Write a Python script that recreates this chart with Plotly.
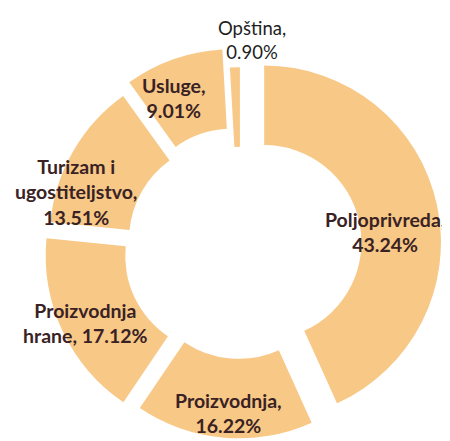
import plotly.graph_objects as go

# Data
categories = ["Poljoprivreda", "Proizvodnja", "Proizvodnja hrane",
              "Turizam i ugostiteljstvo", "Usluge", "Opština"]
label_lines = [["Poljoprivreda,"], ["Proizvodnja,"], ["Proizvodnja", "hrane,"],
               ["Turizam i", "ugostiteljstvo,"], ["Usluge,"], ["Opština,"]]
values = [43.24, 16.22, 17.12, 13.51, 9.01, 0.90]


def make_text(lines, v):
    body = list(lines)
    pct = f"{v:.2f}%"
    if len(body) == 2 and body[1] == "hrane,":
        body[1] = body[1] + " " + pct
    else:
        body.append(pct)
    return "<br>".join(body)


texts = [make_text(l, v) for l, v in zip(label_lines, values)]

fig = go.Figure(go.Pie(
    labels=categories,
    values=values,
    text=texts,
    textinfo="none",
    hoverinfo="label+percent",
    sort=False,
    direction="clockwise",
    rotation=0,
    hole=0.55,
    pull=[0.14, 0.08, 0.11, 0.09, 0.13, 0.02],
    marker=dict(colors=["#F7C886"] * 6, line=dict(width=0)),
    domain=dict(x=[0.0678, 0.9633], y=[0.0, 0.9138]),
    showlegend=False,
))

# data labels placed where the source chart shows them (paper coordinates)
label_pos = [(0.838, 0.492), (0.489, 0.082), (0.173, 0.286),
             (0.151, 0.582), (0.369, 0.796), (0.543, 0.927)]
for i, (t, (px, py)) in enumerate(zip(texts, label_pos)):
    is_small = i == 5
    fig.add_annotation(
        text=t, x=px, y=py, xref="paper", yref="paper",
        showarrow=False, xanchor="center", yanchor="middle",
        font=dict(family="Lato", size=18.5 if is_small else 19.5,
                  color="#1e1e1e" if is_small else "#3a2224",
                  weight="normal" if is_small else "bold"),
    )

fig.update_layout(
    width=450, height=441,
    margin=dict(l=0, r=0, t=0, b=0),
    paper_bgcolor="white",
    plot_bgcolor="white",
)

fig.write_html("out.html")
